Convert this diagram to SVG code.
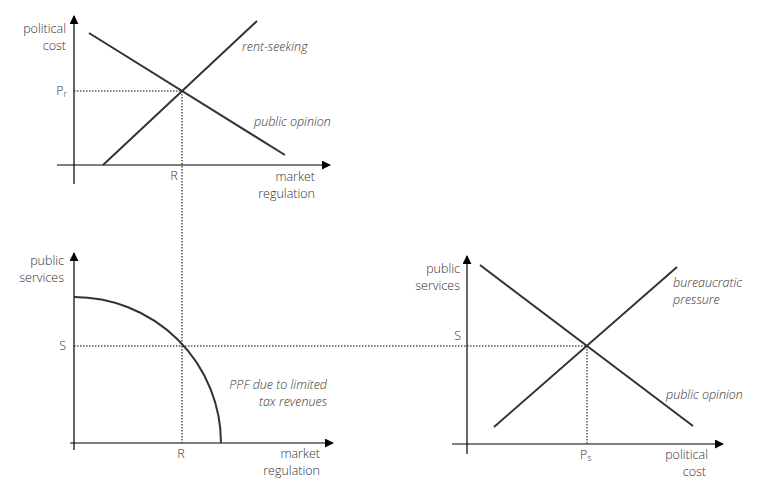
<svg xmlns="http://www.w3.org/2000/svg" width="780" height="491" viewBox="0 0 780 491">
<defs>
<style>
text{font-family:"Open Sans","Liberation Sans",sans-serif;font-weight:300;font-size:12.5px;fill:#333}
.it{font-style:italic}
.r{text-anchor:end}
.m{text-anchor:middle}
.ax{stroke:#000;stroke-width:1.2;fill:none}
.cv{stroke:#333;stroke-width:2;fill:none}
.dt{stroke:#000;stroke-width:1;stroke-dasharray:1.5,1.5;fill:none}
.sub{font-size:9px}
</style>
<marker id="ah" viewBox="0 0 10 10" refX="9" refY="5" markerWidth="9" markerHeight="9" markerUnits="userSpaceOnUse" orient="auto">
<path d="M0,0 L10,5 L0,10 z" fill="#000"/>
</marker>
</defs>
<rect width="780" height="491" fill="#fff"/>
<g id="connectors">
<line class="dt" x1="74" y1="91" x2="181" y2="91"/>
<line class="dt" x1="182" y1="91" x2="182" y2="443"/>
<line class="dt" x1="74" y1="346" x2="587" y2="346"/>
<line class="dt" x1="587" y1="346" x2="587" y2="444"/>
</g>
<g id="chart-top">
<line class="ax" x1="74" y1="184" x2="74" y2="16" marker-end="url(#ah)"/>
<line class="ax" x1="57" y1="165" x2="330" y2="165" marker-end="url(#ah)"/>
<line class="cv" x1="89" y1="33" x2="285" y2="155"/>
<line class="cv" x1="103" y1="165" x2="257" y2="21"/>
<text class="r" x="66" y="33">political</text>
<text class="r" x="66" y="50">cost</text>
<text class="r" x="67" y="95">P<tspan class="sub" dy="2">r</tspan></text>
<text class="m" x="174" y="180">R</text>
<text class="r" x="315" y="181">market</text>
<text class="r" x="315" y="198">regulation</text>
<text class="it" x="242" y="51">rent-seeking</text>
<text class="it" x="254" y="126">public opinion</text>
</g>
<g id="chart-ppf">
<line class="ax" x1="74" y1="450" x2="74" y2="253" marker-end="url(#ah)"/>
<line class="ax" x1="70" y1="443" x2="333" y2="443" marker-end="url(#ah)"/>
<path class="cv" d="M74,297 A147,146 0 0 1 221,443"/>
<text class="r" x="64" y="265">public</text>
<text class="r" x="64" y="282">services</text>
<text class="r" x="66" y="350">S</text>
<text class="m" x="181" y="458">R</text>
<text class="r" x="320" y="458">market</text>
<text class="r" x="320" y="475">regulation</text>
<text class="it r" x="327" y="389">PPF due to limited</text>
<text class="it r" x="327" y="406">tax revenues</text>
</g>
<g id="chart-right">
<line class="ax" x1="467" y1="454" x2="467" y2="256" marker-end="url(#ah)"/>
<line class="ax" x1="452" y1="444" x2="723" y2="444" marker-end="url(#ah)"/>
<line class="cv" x1="480" y1="265" x2="693" y2="426"/>
<line class="cv" x1="494" y1="427" x2="677" y2="267"/>
<text class="r" x="460" y="273">public</text>
<text class="r" x="460" y="290">services</text>
<text class="r" x="461" y="340">S</text>
<text x="580" y="459">P<tspan class="sub" dy="2">s</tspan></text>
<text class="r" x="708" y="459">political</text>
<text class="r" x="706" y="476">cost</text>
<text class="it" x="673" y="287">bureaucratic</text>
<text class="it" x="673" y="304">pressure</text>
<text class="it" x="666" y="399">public opinion</text>
</g>
</svg>
